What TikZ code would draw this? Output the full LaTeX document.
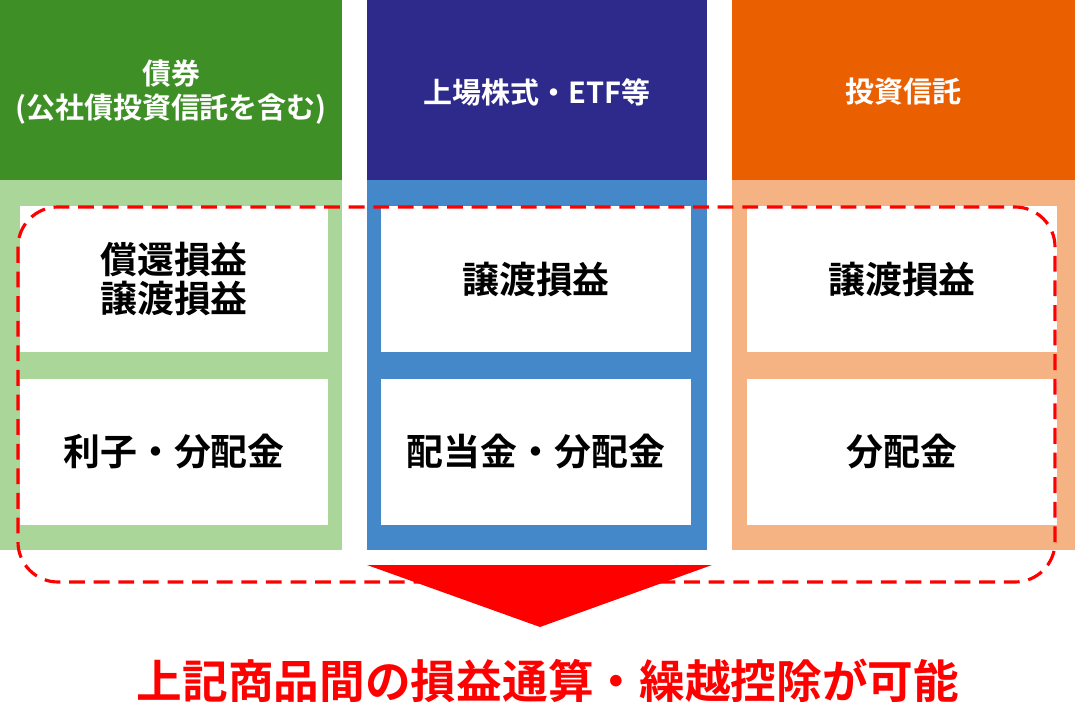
\documentclass[tikz,border=0pt]{standalone}
\usepackage{fontspec}
\setmainfont{Noto Sans CJK JP}[BoldFont={Noto Sans CJK JP Bold}]
\usetikzlibrary{positioning}
\definecolor{grhead}{HTML}{3F8F27}
\definecolor{grbody}{HTML}{AAD69A}
\definecolor{blhead}{HTML}{2E2A8C}
\definecolor{blbody}{HTML}{4588CA}
\definecolor{orhead}{HTML}{EA6000}
\definecolor{orbody}{HTML}{F5B283}
\definecolor{redline}{HTML}{FF0000}
\begin{document}
\begin{tikzpicture}[
        x=0.02cm, y=-0.02cm,
        head/.style = {
            text=white,
            font=\fontsize{16.5}{19}\selectfont\bfseries,
            align=center
        },
        item/.style = {
            fill=white,
            minimum width=#1,
            minimum height=2.94cm,
            inner sep=0pt,
            font=\fontsize{21}{22}\selectfont\bfseries,
            align=center
        },
        item/.default = 6.16cm
        ]
%
        \useasboundingbox (0,0) rectangle (1075,702);
%
        \fill[grhead] (0,0) rectangle (342,180);
        \fill[grbody] (0,180) rectangle (342,550);
        \fill[blhead] (367,0) rectangle (707,180);
        \fill[blbody] (367,180) rectangle (707,550);
        \fill[orhead] (732,0) rectangle (1075,180);
        \fill[orbody] (732,180) rectangle (1075,550);
%
        \node[head] (h1) at (171,92) {債券\\(公社債投資信託を含む)};
        \node[head] (h2) at (537,92) {上場株式・ETF等};
        \node[head] (h3) at (903,92) {投資信託};
%
        \node[item] (a1) at (174,279) {償還損益\\譲渡損益};
        \node[item] (b1) at (174,452) {利子・分配金};
        \node[item=6.22cm] (a2) at (536,279) {譲渡損益};
        \node[item=6.22cm] (b2) at (536,452) {配当金・分配金};
        \node[item=6.2cm] (a3) at (902,279) {譲渡損益};
        \node[item=6.2cm] (b3) at (902,452) {分配金};
%
        \draw[redline, line width=1.8pt, dash pattern=on 9pt off 5pt, rounded corners=0.8cm]
                (18,207) rectangle (1055,582);
%
        \coordinate (tl) at (367,565);
        \coordinate (tr) at (712,565);
        \coordinate (tb) at (540,627);
        \fill[redline] (tl) -- (tr) -- (tb) -- cycle;
%
        \node[text=redline, font=\fontsize{26}{28}\selectfont\bfseries] (res) at (548,681)
                {上記商品間の損益通算・繰越控除が可能};
\end{tikzpicture}
\end{document}
